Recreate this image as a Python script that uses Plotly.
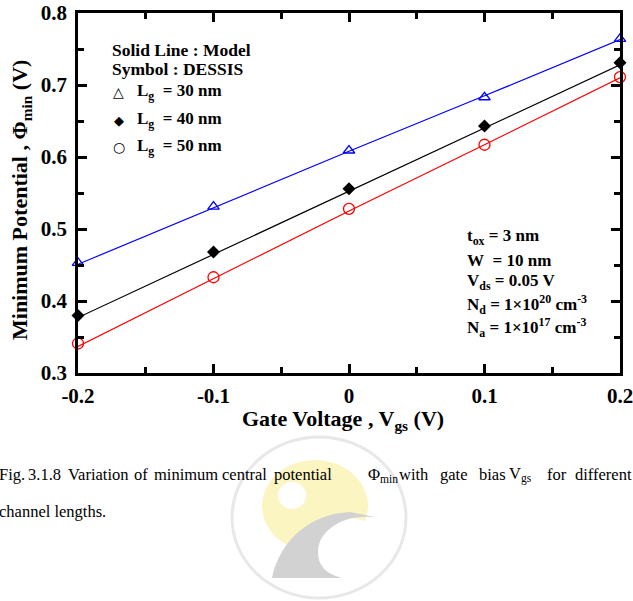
import plotly.graph_objects as go

# ---- data ----
vgs = [-0.2, -0.1, 0.0, 0.1, 0.2]
sim_30 = [0.453, 0.531, 0.609, 0.683, 0.764]
sim_40 = [0.380, 0.468, 0.556, 0.643, 0.731]
sim_50 = [0.341, 0.433, 0.528, 0.617, 0.711]
model_30 = [0.451, 0.530, 0.608, 0.685, 0.763]
model_40 = [0.377, 0.465, 0.553, 0.641, 0.728]
model_50 = [0.337, 0.431, 0.525, 0.617, 0.710]
x_ticks = [-0.2, -0.1, 0.0, 0.1, 0.2]
x_ticklabels = ["-0.2", "-0.1", "0", "0.1", "0.2"]
y_ticks = [0.3, 0.4, 0.5, 0.6, 0.7, 0.8]
y_ticklabels = ["0.3", "0.4", "0.5", "0.6", "0.7", "0.8"]

W, H = 633, 601
L, R, T, B = 78, 620, 13, 373
SERIF = "Liberation Serif, Times New Roman, serif"
NB = "\u00a0"


def px(x):
    return (x - L) / (R - L)


def py(y):
    return (B - y) / (B - T)


fig = go.Figure()
for ym, col in [(model_30, "#0000ff"), (model_40, "#000000"), (model_50, "#ff0000")]:
    fig.add_trace(go.Scatter(x=vgs, y=ym, mode="lines", line=dict(color=col, width=1.2),
                             showlegend=False, hoverinfo="skip", cliponaxis=False))
fig.add_trace(go.Scatter(x=vgs, y=sim_30, mode="markers", showlegend=False, cliponaxis=False,
                         marker=dict(symbol="triangle-up-open", size=10, color="#0000ff",
                                     line=dict(width=1.3, color="#0000ff"))))
fig.add_trace(go.Scatter(x=vgs, y=sim_40, mode="markers", showlegend=False, cliponaxis=False,
                         marker=dict(symbol="diamond", size=10, color="#000000")))
fig.add_trace(go.Scatter(x=vgs, y=sim_50, mode="markers", showlegend=False, cliponaxis=False,
                         marker=dict(symbol="circle-open", size=11, color="#ff0000",
                                     line=dict(width=1.3, color="#ff0000"))))

axis_common = dict(showline=True, linecolor="black", linewidth=2.5, mirror="ticks",
                   ticks="inside", ticklen=9, tickwidth=2.5, tickcolor="black",
                   showgrid=False, zeroline=False, automargin=False,
                   ticklabeloverflow="allow",
                   tickfont=dict(family=SERIF, size=21, color="black", weight="bold"))
fig.update_xaxes(range=[-0.2, 0.2], tickvals=x_ticks, ticktext=x_ticklabels,
                 minor=dict(ticks="inside", ticklen=6, tickwidth=2.5, tickcolor="black", dtick=0.05, tick0=0),
                 ticklabelstandoff=2, **axis_common)
fig.update_yaxes(range=[0.3, 0.8], tickvals=y_ticks, ticktext=y_ticklabels,
                 minor=dict(ticks="inside", ticklen=6, tickwidth=2.5, tickcolor="black", dtick=0.05, tick0=0),
                 ticklabelstandoff=4, **axis_common)

ann = []


def text(x, y, s, size=15, xanchor="left", bold=True, family=SERIF, color="black", angle=0):
    ann.append(dict(x=px(x), y=py(y), xref="paper", yref="paper", text=s, showarrow=False,
                    xanchor=xanchor, yanchor="middle", textangle=angle,
                    font=dict(family=family, size=size, color=color, weight="bold" if bold else "normal")))


# axis titles
text(343, 420, "Gate Voltage , V<sub>gs</sub> (V)", size=22, xanchor="center")
text(21, 200, "Minimum Potential , Φ<sub>min</sub> (V)", size=22, xanchor="center", angle=-90)

# legend block
text(110, 50, "Solid Line : Model", size=17.5)
text(110, 69, "Symbol : DESSIS", size=17.5)
text(111, 92, "△", size=14, bold=False, family="DejaVu Sans")
text(112, 120, "◆", size=13, bold=False, family="DejaVu Sans")
text(111, 147, "○", size=14, bold=False, family="DejaVu Sans")
text(135, 92, "L<sub>g</sub>" + NB + " = 30 nm", size=17)
text(135, 120, "L<sub>g</sub>" + NB + " = 40 nm", size=17)
text(135, 147, "L<sub>g</sub>" + NB + " = 50 nm", size=17)

# parameters block
text(465, 237, "t<sub>ox</sub> = 3 nm", size=17)
text(465, 260, "W" + NB + " = 10 nm", size=17)
text(465, 282, "V<sub>ds</sub> = 0.05 V", size=17)
text(465, 304, "N<sub>d</sub> = 1×10<sup>20</sup> cm<sup>-3</sup>", size=17)
text(465, 327, "N<sub>a</sub> = 1×10<sup>17</sup> cm<sup>-3</sup>", size=17)

# caption (justified first line: words placed at their measured positions)
cap_words = [(0, "Fig."), (29, "3.1.8"), (69, "Variation"), (135, "of"), (155, "minimum"),
             (223, "central"), (275, "potential"), (369, "Φ<sub>min</sub>"), (400, "with"),
             (441, "gate"), (480, "bias"), (510, "V<sub>gs</sub>"), (548, "for"), (576, "different")]
for xw, w in cap_words:
    text(xw - 3, 475, w, size=16.5, bold=False)
text(-3, 511, "channel lengths.", size=16.5, bold=False)


# watermark (faint logo)
def pt(x, y):
    return f"{px(x):.4f},{py(y):.4f}"


gray_path = ("M" + pt(272, 578) + " C" + pt(280, 540) + " " + pt(310, 514) + " " + pt(350, 512)
             + " L" + pt(380, 518) + " C" + pt(345, 512) + " " + pt(318, 530) + " " + pt(318, 552)
             + " C" + pt(318, 566) + " " + pt(326, 574) + " " + pt(342, 578) + " Z")
shapes = [
    dict(type="circle", xref="paper", yref="paper", x0=px(232), x1=px(406), y0=py(437), y1=py(598),
         line=dict(color="#e8e8e8", width=3), layer="below"),
    dict(type="circle", xref="paper", yref="paper", x0=px(262), x1=px(368), y0=py(460), y1=py(552),
         fillcolor="#fbf5c2", line=dict(width=0), layer="below"),
    dict(type="circle", xref="paper", yref="paper", x0=px(278), x1=px(306), y0=py(482), y1=py(509),
         fillcolor="#ffffff", line=dict(width=0), layer="below"),
    dict(type="circle", xref="paper", yref="paper", x0=px(318), x1=px(384), y0=py(518), y1=py(584),
         fillcolor="#ffffff", line=dict(width=0), layer="below"),
    dict(type="path", xref="paper", yref="paper", path=gray_path,
         fillcolor="#d2d2d2", line=dict(width=0), layer="below"),
]

fig.update_layout(width=W, height=H, margin=dict(l=L, r=W - R, t=T, b=H - B),
                  paper_bgcolor="white", plot_bgcolor="rgba(0,0,0,0)",
                  annotations=ann, shapes=shapes, showlegend=False)

fig.write_html("out.html")
